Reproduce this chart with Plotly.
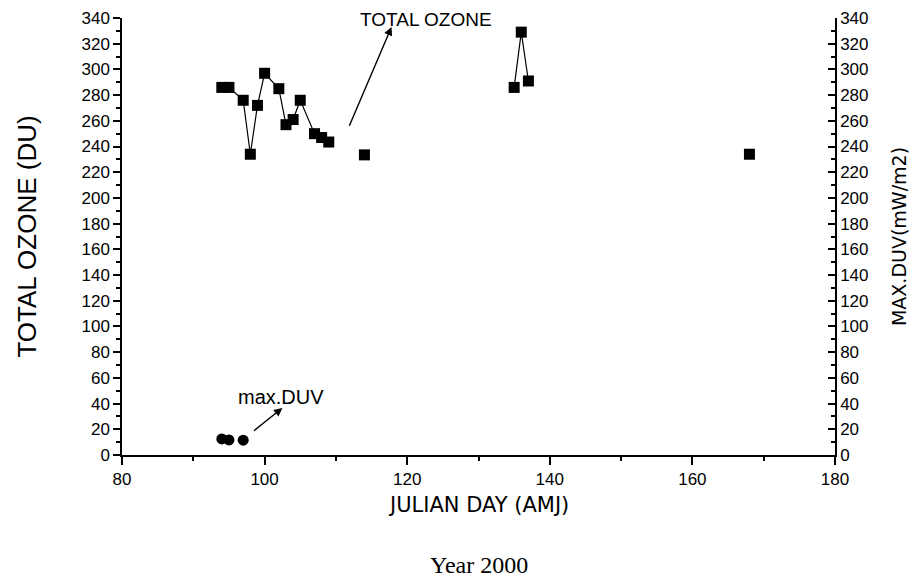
import plotly.graph_objects as go

# Total ozone (DU) by Julian day
ozone_days = [94, 95, 97, 98, 99, 100, 102, 103, 104, 105, 107, 108, 109, 114, 135, 136, 137, 168]
ozone_vals = [286, 286, 276, 234, 272, 297, 285, 257, 261, 276, 250, 247, 243.5, 233.5, 286, 329, 291, 234]

# Max DUV (mW/m2)
duv_days = [94, 95, 97]
duv_vals = [12.5, 11.7, 11.5]

x_ticks = [80, 100, 120, 140, 160, 180]
y_ticks = list(range(0, 341, 20))

# line segments: connect consecutive observations within 2 days
line_x, line_y = [], []
for i, (d, v) in enumerate(zip(ozone_days, ozone_vals)):
    if i > 0 and d - ozone_days[i - 1] > 2:
        line_x.append(None)
        line_y.append(None)
    line_x.append(d)
    line_y.append(v)

fig = go.Figure()
fig.add_trace(go.Scatter(x=line_x, y=line_y, mode="lines",
                         line=dict(color="black", width=1.2),
                         connectgaps=False, showlegend=False, hoverinfo="skip"))
fig.add_trace(go.Scatter(x=ozone_days, y=ozone_vals, mode="markers",
                         marker=dict(symbol="square", size=11, color="black"),
                         name="TOTAL OZONE", showlegend=False))
fig.add_trace(go.Scatter(x=duv_days, y=duv_vals, mode="markers", yaxis="y2",
                         marker=dict(symbol="circle", size=11, color="black"),
                         name="max.DUV", showlegend=False))

sans = "Liberation Sans, Arial, sans-serif"
tickfont = dict(family=sans, size=17, color="black")

fig.update_layout(
    width=912, height=577,
    margin=dict(l=122, r=77, t=18, b=122, autoexpand=False),
    paper_bgcolor="white", plot_bgcolor="white",
    font=dict(family=sans, color="black"),
    xaxis=dict(range=[80, 180], tickvals=x_ticks, ticks="outside", ticklen=8,
               tickwidth=1.5, tickcolor="black", showline=True, linecolor="black",
               linewidth=1.5, showgrid=False, zeroline=False, tickfont=tickfont,
               automargin=False,
               minor=dict(dtick=10, ticks="outside", ticklen=4, tickwidth=1.5, tickcolor="black")),
    yaxis=dict(range=[0, 340], tickvals=y_ticks, ticks="outside", ticklen=7,
               tickwidth=1.5, tickcolor="black", showline=True, linecolor="black",
               linewidth=1.5, showgrid=False, zeroline=False, tickfont=tickfont,
               automargin=False,
               minor=dict(dtick=10, ticks="outside", ticklen=4, tickwidth=1.5, tickcolor="black"),
               title=dict(text="TOTAL OZONE (DU)", font=dict(size=26), standoff=37)),
    yaxis2=dict(range=[0, 340], tickvals=y_ticks, overlaying="y", side="right",
                ticks="inside", ticklen=7, tickwidth=1.5, tickcolor="black",
                showline=True, linecolor="black", linewidth=1.5, showgrid=False,
                zeroline=False, tickfont=tickfont, automargin=False,
                minor=dict(dtick=10, ticks="inside", ticklen=4, tickwidth=1.5, tickcolor="black"),
                title=dict(text="MAX.DUV(mW/m2)",
                           font=dict(family="DejaVu Sans, sans-serif", size=19), standoff=25)),
    annotations=[
        dict(x=0.5, y=0, xref="paper", yref="paper", yshift=-50, text="JULIAN DAY (AMJ)",
             showarrow=False, yanchor="middle",
             font=dict(family="DejaVu Sans, sans-serif", size=21)),
        dict(x=122.6, y=338.5, xref="x", yref="y", text="TOTAL OZONE", showarrow=False,
             font=dict(size=19)),
        dict(x=117.8, y=333, ax=111.8, ay=255, xref="x", yref="y", axref="x", ayref="y",
             text="", showarrow=True, arrowhead=2, arrowsize=1.2, arrowwidth=1.4,
             arrowcolor="black"),
        dict(x=102.3, y=45, xref="x", yref="y", text="max.DUV", showarrow=False,
             font=dict(size=20)),
        dict(x=102.5, y=36.6, ax=98.3, ay=17.9, xref="x", yref="y", axref="x", ayref="y",
             text="", showarrow=True, arrowhead=2, arrowsize=1.2, arrowwidth=1.4,
             arrowcolor="black"),
        dict(x=0.5, y=0, xref="paper", yref="paper", yshift=-110, text="Year 2000",
             showarrow=False, yanchor="middle",
             font=dict(family="Liberation Serif, Times New Roman, serif", size=24)),
    ],
)

fig.write_html("out.html", config={"displayModeBar": False},
               post_script="document.body.style.margin='0';")
